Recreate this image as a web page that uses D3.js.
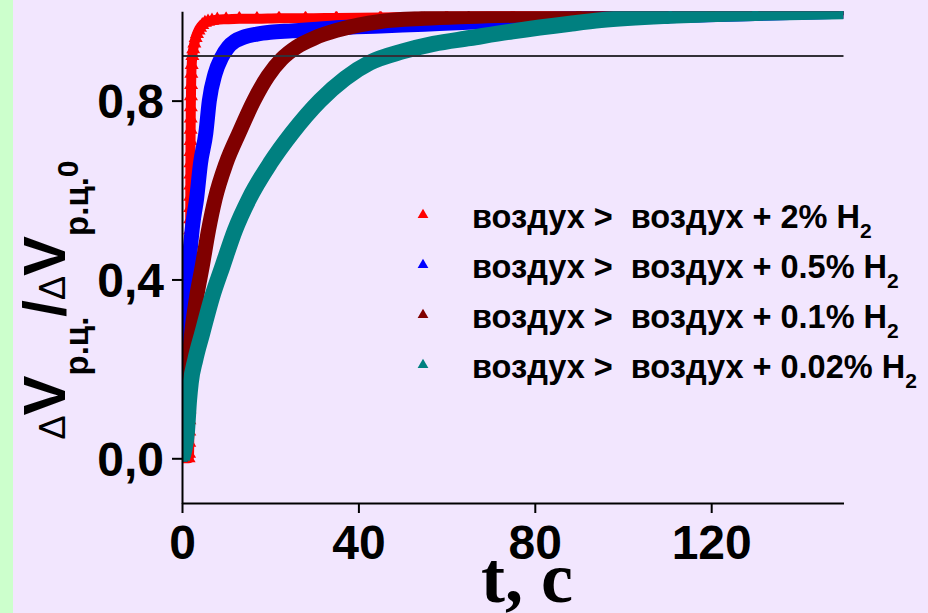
<!DOCTYPE html>
<html>
<head>
<meta charset="utf-8">
<script src="https://cdn.jsdelivr.net/npm/d3@7"></script>
<style>
  html, body { margin: 0; padding: 0; background: #f2e6fe; }
  svg { display: block; }
  text { font-family: "Liberation Sans", Arial, sans-serif; }
</style>
</head>
<body>
<svg id="chart" width="928" height="613"></svg>
<script>
// ---------- data ----------
const redT  = [0, 0.8, 1.5, 1.6, 1.64, 1.66, 1.68, 1.69, 1.70, 1.71, 1.72, 1.73, 1.74, 1.75, 1.76, 1.77, 1.78, 1.79, 1.80, 1.81, 1.82, 1.83, 1.84, 1.85, 1.86, 1.87, 1.88, 1.89, 1.90, 1.91, 1.92, 1.94, 1.96, 1.98, 2.0, 2.03, 2.07, 2.12, 2.2, 2.35, 2.55, 2.8, 3.1, 3.4, 3.75, 4.1, 4.6, 5.2, 5.9, 6.8, 8, 10, 13, 17, 22, 28, 35, 45, 60, 75, 90, 120, 150];
const redV  = [0, 0, 0, 0.01, 0.035, 0.06, 0.085, 0.11, 0.135, 0.16, 0.185, 0.21, 0.235, 0.26, 0.285, 0.31, 0.335, 0.36, 0.385, 0.41, 0.435, 0.46, 0.485, 0.51, 0.535, 0.56, 0.585, 0.61, 0.635, 0.66, 0.685, 0.71, 0.735, 0.76, 0.785, 0.81, 0.835, 0.86, 0.88, 0.90, 0.915, 0.928, 0.94, 0.949, 0.957, 0.963, 0.969, 0.974, 0.977, 0.979, 0.981, 0.982, 0.983, 0.983, 0.984, 0.984, 0.985, 0.986, 0.988, 0.99, 0.993, 0.997, 1.0];

const blueT = [0, 0.4, 0.9, 1.6, 2.4, 3.3, 4.2, 5.4, 6.2, 7.5, 9.0, 10.5, 12, 14, 17, 20, 25, 29.7, 35, 45, 55, 65, 88, 110, 130, 150];
const blueV = [0, 0.15, 0.28, 0.43, 0.52, 0.58, 0.66, 0.727, 0.80, 0.86, 0.897, 0.92, 0.933, 0.942, 0.949, 0.953, 0.956, 0.959, 0.963, 0.967, 0.971, 0.975, 0.983, 0.99, 0.995, 1.0];

const maroonT = [0, 0.9, 2.2, 3.3, 4.6, 6.0, 7.5, 10, 12.9, 16.3, 19.5, 22.6, 26, 30, 35, 40, 45, 55, 65, 90, 120, 150];
const maroonV = [0, 0.13, 0.28, 0.36, 0.43, 0.51, 0.58, 0.66, 0.727, 0.80, 0.855, 0.893, 0.92, 0.94, 0.957, 0.969, 0.977, 0.984, 0.988, 0.994, 0.998, 1.0];

const tealT = [0, 1.1, 1.6, 2.0, 3, 4.6, 6.8, 9.2, 12, 15.2, 20, 24.9, 31.3, 37, 42.6, 50, 57, 65.3, 75, 88, 95, 110.7, 130, 150];
const tealV = [0, 0.057, 0.13, 0.17, 0.22, 0.28, 0.36, 0.43, 0.51, 0.58, 0.66, 0.727, 0.80, 0.85, 0.885, 0.91, 0.927, 0.94, 0.955, 0.972, 0.98, 0.99, 0.996, 1.0];

const seriesNames  = ["воздух >  воздух + 2% H", "воздух >  воздух + 0.5% H", "воздух >  воздух + 0.1% H", "воздух >  воздух + 0.02% H"];
const seriesSub    = ["2", "2", "2", "2"];
const seriesColors = ["#ff0000", "#0000ff", "#800000", "#008080"];

const xMajorTicks = [0, 40, 80, 120];
const xMinorTicks = [20, 60, 100, 140];
const xTickLabels = ["0", "40", "80", "120"];
const yMajorTicks = [0, 0.4, 0.8];
const yMinorTicks = [0.2, 0.6, 1.0];
const yTickLabels = ["0,0", "0,4", "0,8"];
const refLevel = 0.9;
const xDomain = [0, 150];
const yDomain = [-0.1, 1.0];

// ---------- drawing ----------
const svg = d3.select("#chart");
const W = 928, H = 613;

svg.append("rect").attr("width", W).attr("height", H).attr("fill", "#f2e6fe");
svg.append("rect").attr("x", 0).attr("y", 0).attr("width", 13).attr("height", H).attr("fill", "#ccffcc");

const x = d3.scaleLinear().domain(xDomain).range([182, 843.5]);
const y = d3.scaleLinear().domain(yDomain).range([503, 11.2]);

// clip
svg.append("clipPath").attr("id", "plotclip")
  .append("rect")
  .attr("x", x(xDomain[0])).attr("y", y(yDomain[1]))
  .attr("width", x(xDomain[1]) - x(xDomain[0]))
  .attr("height", y(yDomain[0]) - y(yDomain[1]));

const series = [
  {t: redT, v: redV, w: 10, mk: 85},
  {t: blueT, v: blueV, w: 15, mk: 62},
  {t: maroonT, v: maroonV, w: 15, mk: 62},
  {t: tealT, v: tealV, w: 16, mk: 62}
];

const plot = svg.append("g").attr("clip-path", "url(#plotclip)");
const line = d3.line().x(d => x(d[0])).y(d => y(d[1])).curve(d3.curveMonotoneX);

series.forEach((s, i) => {
  const pts = s.t.map((t, k) => [t, s.v[k]]);
  const g = plot.append("g");
  g.append("path").datum(pts)
    .attr("d", line)
    .attr("fill", "none")
    .attr("stroke", seriesColors[i])
    .attr("stroke-width", s.w)
    .attr("stroke-linejoin", "round")
    .attr("stroke-linecap", "butt");
  const tri = d3.symbol().type(d3.symbolTriangle).size(s.mk);
  g.selectAll("path.mk").data(pts).join("path")
    .attr("class", "mk")
    .attr("d", tri)
    .attr("transform", d => `translate(${x(d[0])},${y(d[1])})`)
    .attr("fill", seriesColors[i]);
});

// reference line at 0.9 (drawn over the curves)
svg.append("line")
  .attr("x1", x(xDomain[0])).attr("x2", x(xDomain[1]))
  .attr("y1", y(refLevel)).attr("y2", y(refLevel))
  .attr("stroke", "#333038").attr("stroke-width", 2);

// axes
const fontAxis = 48;
const xAxisG = svg.append("g").attr("transform", `translate(0,${y(yDomain[0])})`);
xAxisG.call(d3.axisBottom(x).tickValues(xMinorTicks).tickSize(5).tickSizeOuter(0).tickFormat(""));
xAxisG.call(d3.axisBottom(x).tickValues(xMajorTicks).tickSize(10).tickSizeOuter(0)
  .tickFormat((d, i) => xTickLabels[i]));
xAxisG.selectAll("path.domain").attr("stroke", "#000").attr("stroke-width", 2);
xAxisG.selectAll(".tick line").attr("stroke", "#000").attr("stroke-width", 2);
xAxisG.selectAll(".tick text")
  .attr("y", 56).attr("dy", null)
  .attr("fill", "#000")
  .style("font-family", "'Liberation Sans', Arial, sans-serif")
  .style("font-weight", "bold")
  .style("font-size", fontAxis + "px");

const yAxisG = svg.append("g").attr("transform", `translate(${x(xDomain[0])},0)`);
yAxisG.call(d3.axisLeft(y).tickValues(yMinorTicks).tickSize(5).tickSizeOuter(0).tickFormat(""));
yAxisG.call(d3.axisLeft(y).tickValues(yMajorTicks).tickSize(10).tickSizeOuter(0)
  .tickFormat((d, i) => yTickLabels[i]));
yAxisG.selectAll("path.domain").attr("stroke", "#000").attr("stroke-width", 2);
yAxisG.selectAll(".tick line").attr("stroke", "#000").attr("stroke-width", 2);
yAxisG.selectAll(".tick text")
  .attr("x", -18).attr("dy", "0.35em")
  .attr("fill", "#000")
  .style("font-family", "'Liberation Sans', Arial, sans-serif")
  .style("font-weight", "bold")
  .style("font-size", fontAxis + "px");

// x title
svg.append("text")
  .attr("x", 527).attr("y", 602)
  .attr("text-anchor", "middle")
  .style("font-family", "'Liberation Serif', 'Times New Roman', serif")
  .style("font-weight", "bold")
  .style("font-size", "72px")
  .attr("fill", "#000")
  .text("t, c");

// y title
const yt = svg.append("text")
  .attr("transform", "translate(65,300) rotate(-90)")
  .attr("text-anchor", "middle")
  .attr("fill", "#000")
  .style("font-family", "'Liberation Sans', Arial, sans-serif");
yt.append("tspan").style("font-size", "36px").style("font-weight", "normal").text("Δ");
yt.append("tspan").style("font-size", "60px").style("font-weight", "bold").text("V");
yt.append("tspan").style("font-size", "33px").style("font-weight", "bold").attr("dy", 23).text("р.ц.");
yt.append("tspan").style("font-size", "60px").style("font-weight", "bold").attr("dy", -23).text("/");
yt.append("tspan").style("font-size", "36px").style("font-weight", "normal").text("Δ");
yt.append("tspan").style("font-size", "60px").style("font-weight", "bold").text("V");
yt.append("tspan").style("font-size", "33px").style("font-weight", "bold").attr("dy", 23).text("р.ц.");
yt.append("tspan").style("font-size", "30px").style("font-weight", "bold").attr("dy", -10).text("0");

// legend
const legTri = d3.symbol().type(d3.symbolTriangle).size(50);
seriesNames.forEach((name, i) => {
  const base = 228 + i * 50;
  svg.append("path").attr("d", legTri)
    .attr("transform", `translate(423,${base - 13})`)
    .attr("fill", seriesColors[i]);
  const t = svg.append("text")
    .attr("x", 472).attr("y", base)
    .attr("fill", "#000")
    .style("font-family", "'Liberation Sans', Arial, sans-serif")
    .style("font-weight", "bold")
    .style("font-size", "32.5px")
    .style("white-space", "pre");
  t.append("tspan").text(name);
  t.append("tspan").attr("dy", 10).style("font-size", "21px").text(seriesSub[i]);
});
</script>
</body>
</html>
